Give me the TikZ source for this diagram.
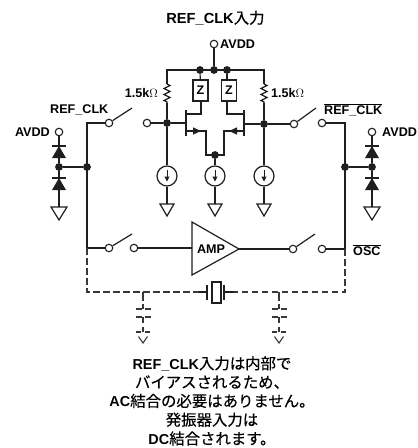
\documentclass[tikz,border=0pt]{standalone}
\usepackage{fontspec}
\setmainfont{Liberation Sans}
\newfontfamily\cjk[FakeBold=0.35]{Noto Sans CJK JP}
\usetikzlibrary{arrows.meta,decorations.pathmorphing}
\newcommand{\ja}[1]{{\cjk\mdseries\fontsize{15.4}{15.4}\selectfont #1}}
\tikzset{
    wire/.style={line width=1.2pt,color=black!88},
    dashwire/.style={line width=1.1pt,color=black!78,dash pattern=on 6.5pt off 3.5pt},
    capwire/.style={line width=1.1pt,color=black!78},
    term/.style={circle,draw=black!88,line width=1.1pt,fill=white,minimum size=7.5pt,inner sep=0pt},
    jct/.style={circle,fill=black!88,minimum size=7.8pt,inner sep=0pt},
    isrc/.style={circle,draw=black!88,line width=1.2pt,minimum size=20pt,inner sep=0pt},
    zbox/.style={rectangle,draw=black!88,line width=1.2pt,minimum width=15pt,minimum height=21pt,inner sep=0pt,font=\bfseries\fontsize{12.5}{12.5}\selectfont},
    lbl/.style={inner sep=0pt,font=\bfseries\fontsize{12.6}{14}\selectfont},
    ttl/.style={inner sep=0pt,font=\bfseries\fontsize{14.6}{16}\selectfont},
    note/.style={inner sep=0pt,align=center,font=\bfseries\fontsize{14.4}{18.8}\selectfont},
    gnd/.pic={\draw[wire,fill=white] (-7,0) -- (7,0) -- (0,12) -- cycle;},
    gndbig/.pic={\draw[wire,fill=white] (-8,0) -- (8,0) -- (0,13) -- cycle;},
    diode/.pic={
        \draw[wire] (-7,0) -- (7,0);
        \fill[black!88] (-7,12) -- (7,12) -- (0,0) -- cycle;
    },
    loadcap/.pic={
        % plates
        \draw[capwire] (-7,17) -- (-1,17) (2,17) -- (8,17);
        \draw[capwire] (-7,25) -- (-1,25) (2,25) -- (8,25);
        % dashed ground
        \draw[capwire] (-7,40) -- (-2,40) (2,40) -- (7,40);
        \draw[capwire] (-4.5,44.5) -- (0,51) -- (4.5,44.5);
    },
    rzig/.style={decorate,decoration={zigzag,segment length=6pt,amplitude=3pt}},
}
\begin{document}
\begin{tikzpicture}[x=1pt,y=-1pt]
    \useasboundingbox (0,0) rectangle (418,448);

    % labels
    \node[ttl] (title) at (215.5,18) {REF\_CLK\ja{入力}};
    \node[lbl,anchor=west] (lavddt) at (220,44) {AVDD};
    \node[lbl,anchor=east] (lrl) at (158,93) {1.5k$\Omega$};
    \node[lbl,anchor=west] (lrr) at (271,93) {1.5k$\Omega$};
    \node[lbl,anchor=west] (lrefn) at (50,110) {REF\_CLK};
    \node[lbl,anchor=west] (lrefp) at (324,110) {$\overline{\mbox{REF\_CLK}}$};
    \node[lbl,anchor=east] (lavddl) at (50,132) {AVDD};
    \node[lbl,anchor=west] (lavddr) at (382,132) {AVDD};
    \node[lbl,anchor=west] (losc) at (353,250) {$\overline{\mbox{OSC}}$};
    \node[note,anchor=north] (note) at (212,356) {REF\_CLK\ja{入力は内部で}\\\ja{バイアスされるため、}\\AC\ja{結合の必要はありません。}\\\ja{発振器入力は}\\DC\ja{結合されます。}};

    % terminals
    \foreach \n/\x/\y in {Tavdd/214/44,Tdl/59/132,Tdr/372/132,Tin/147/123,Tinr/294/124,
        Sa/109/123,Sb/322/123,Sc/109/248,Sd/134/248,Se/293/249,Sf/322/249}{
        \node[term] (\n) at (\x,\y) {};
    }

    % junctions
    \foreach \n/\x/\y in {Jt/214/70,Jza/200/70,Jzb/227/70,Jl/167/123,Jr/264/124,Jm/215/155,
        Jdl/59/167,Jwl/87/167,Jwr/345/167,Jdr/372/167}{
        \node[jct] (\n) at (\x,\y) {};
    }

    % free ends
    \foreach \n/\x/\y in {Ra/167/70,Rb/167/84,Rc/167/103,Rd/264/70,Re/264/84,Rf/264/103,
        Aa/132/108,Ab/316/108,Ac/132/234,Ad/315/234,
        Wa/87/123,Wb/87/248,Wc/345/123,Wd/345/249,Da/87/292,Db/345/292,
        Ca/143/292,Cb/143/309,Cc/143/317,Cd/143/332,Ce/279/292,Cf/279/309,Cg/279/317,Ch/279/332,
        Xa/207/292,Xb/224/292,Xc/199/292,Xd/234/292,
        Ma/186/123,Mb/186/114,Mc/186/131,Md/201/114,Me/206/131,Mf/206/155,
        Na/244/124,Nb/244/114,Nc/244/131,Nd/227/114,Ne/224/131,Nf/224/155,
        Ga/59/207,Gb/372/207,Gc/167/204,Gd/215/204,Ge/264/204,
        Pa/59/146,Pb/59/178,Pc/372/146,Pd/372/178}{
        \coordinate (\n) at (\x,\y);
    }

    % supply rail
    \draw[wire] (Tavdd) -- (Jt);
    \draw[wire] (Rb) -- (Ra) -- (Rd) -- (Re);
    \draw[wire,rzig] (Rb) -- (Rc);
    \draw[wire,rzig] (Re) -- (Rf);
    \draw[wire] (Rc) -- (Jl);
    \draw[wire] (Rf) -- (Jr);

    % loads
    \node[zbox] (Za) at (200.5,90.5) {Z};
    \node[zbox] (Zb) at (229,90.5) {Z};
    \draw[wire] (Jza) -- (Za);
    \draw[wire] (Jzb) -- (Jzb |- Zb.north);
    \draw[wire] (Za.south -| Md) -- (Md) -- (Mb);
    \draw[wire] (Zb.south -| Nd) -- (Nd) -- (Nb);

    % pair
    \draw[wire] (Tin) -- (Jl) -- (Ma);
    \draw[wire] (Tinr) -- (Jr) -- (Na);
    \draw[wire] (Ma |- 0,110) -- (Ma |- 0,136);
    \draw[wire] (Na |- 0,110) -- (Na |- 0,136);
    \draw[wire,-{Triangle[length=8pt,width=7pt]}] (Mc) -- ([xshift=15pt]Mc);
    \draw[wire] (Mc) -- (Me) -- (Mf) -- (Nf) -- (Ne) -- (Nc);
    \draw[wire,-{Triangle[length=8pt,width=7pt]}] (Nc) -- ([xshift=-15pt]Nc);

    % current sources
    \foreach \n/\t/\x/\g in {Ia/Jl/167/Gc,Ib/Jm/215/Gd,Ic/Jr/264/Ge}{
        \node[isrc] (\n) at (\x,176) {};
        \draw[wire] (\t) -- (\n);
        \draw[wire] (\n) -- (\g);
        \draw[line width=1pt,black!88,-{Triangle[length=5pt,width=5pt]}] ([yshift=6.5pt]\n.center) -- ([yshift=-5.5pt]\n.center);
        \pic at (\g) {gnd};
    }

    % switches
    \draw[wire] (Sa) -- (Aa);
    \draw[wire] (Tinr) -- (Ab);
    \draw[wire] (Sc) -- (Ac);
    \draw[wire] (Se) -- (Ad);
    \draw[wire] (Sa) -- (Wa) -- (Wb) -- (Sc);
    \draw[wire] (Sb) -- (Wc) -- (Wd) -- (Sf);

    % diodes
    \draw[wire] (Tdl) -- (Pa);
    \draw[wire] (Tdr) -- (Pc);
    \draw[wire] (Pa) -- (Jdl) -- (Ga);
    \draw[wire] (Pc) -- (Jdr) -- (Gb);
    \draw[wire] (Jdl) -- (Jwl);
    \draw[wire] (Jdr) -- (Jwr);
    \pic at (Pa) {diode};
    \pic at (Pb) {diode};
    \pic at (Pc) {diode};
    \pic at (Pd) {diode};
    \pic at (Ga) {gndbig};
    \pic at (Gb) {gndbig};

    % amp
    \draw[wire,fill=white] (192,222) -- (239,249) coordinate (Aout) -- (192,275) -- cycle;
    \node[lbl] (amp) at (211,249) {AMP};
    \draw[wire] (Sd) -- (192,248);
    \draw[wire] (Aout) -- (Se);

    % crystal
    \draw[dashwire] (Wb) -- (Da) -- (Xc);
    \draw[dashwire] (Wd) -- (Db) -- (Xd);
    \draw[wire] (Xc) -- (Xa);
    \draw[wire] (Xd) -- (Xb);
    \draw[wire] (Xa |- 0,285) -- (Xa |- 0,300);
    \draw[wire] (Xb |- 0,285) -- (Xb |- 0,300);
    \node[rectangle,draw=black!88,line width=1.2pt,fill=white,minimum width=9pt,minimum height=21pt,inner sep=0pt] (Xt) at (216.5,292.5) {};

    % load caps
    \foreach \a/\b/\c/\d in {Ca/Cb/Cc/Cd,Ce/Cf/Cg/Ch}{
        \draw[capwire,dash pattern=on 9pt off 3pt] (\a) -- (\b);
        \draw[capwire,dash pattern=on 6pt off 4pt] (\c) -- (\d);
        \pic at (\a) {loadcap};
    }
\end{tikzpicture}
\end{document}
